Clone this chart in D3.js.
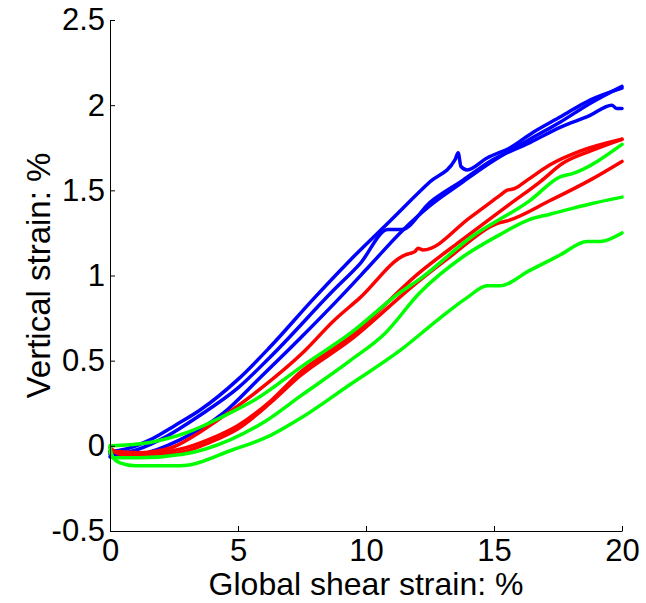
<!DOCTYPE html>
<html>
<head>
<meta charset="utf-8">
<script src="https://cdn.jsdelivr.net/npm/d3@7"></script>
<style>
  body { margin: 0; background: #fff; }
  text { font-family: Arial, "Liberation Sans", sans-serif; }
</style>
</head>
<body>
<svg id="chart" width="646" height="603"></svg>
<script>
// tick values
var xTicks = [0, 5, 10, 15, 20];
var yTicks = [-0.5, 0, 0.5, 1, 1.5, 2, 2.5];

// curves, [shear strain %, vertical strain %]
var blue1 = [[0,-0.035],[0.59,-0.02],[1.56,0.035],[2.54,0.12],[3.52,0.21],[5.0,0.39],[6.25,0.58],[7.93,0.86],
  [9.38,1.09],[10.94,1.32],[12.5,1.55],[13.48,1.68],[13.6,1.72],[13.71,1.64],[13.95,1.62],[14.73,1.69],
  [15.63,1.75],[16.52,1.84],[17.58,1.93],[18.75,2.03],[20,2.10]];
var blue2 = [[0,-0.05],[0.78,-0.035],[1.95,0.035],[3.52,0.18],[5.0,0.34],[6.25,0.52],[8.71,0.91],[9.77,1.07],
  [10.86,1.27],[11.4,1.27],[12.5,1.43],[13.79,1.56],[14.84,1.67],[16.4,1.78],[17.58,1.87],[18.75,1.94],
  [19.6,2.0],[19.8,1.98],[20,1.98]];
var blue3 = [[0,-0.065],[1.17,-0.05],[2.73,0.035],[4.41,0.19],[5.86,0.40],[7.42,0.63],[8.98,0.87],[10.16,1.06],
  [11.4,1.26],[12.5,1.41],[13.79,1.55],[14.84,1.66],[16.4,1.80],[17.58,1.90],[18.75,2.01],[20,2.11]];

var red1 = [[0,-0.03],[1.17,-0.04],[2.42,-0.01],[3.3,0.06],[4.1,0.14],[5.66,0.31],[7.62,0.56],[8.71,0.73],
  [9.77,0.87],[11.52,1.12],[11.72,1.13],[11.91,1.14],[12.03,1.16],[12.23,1.15],[14.06,1.34],[15.23,1.47],
  [15.5,1.5],[15.8,1.51],[16.3,1.56],[17.19,1.65],[18.36,1.73],[20,1.80]];
var red2 = [[0,-0.035],[1.56,-0.045],[2.73,-0.02],[3.9,0.04],[5.0,0.12],[6.25,0.26],[7.42,0.43],[9.38,0.64],
  [12.11,1.02],[13.67,1.2],[15.63,1.42],[16.8,1.55],[17.7,1.66],[18.75,1.73],[20,1.80]];
var red3 = [[0,-0.01],[0.4,-0.05],[1.56,-0.055],[2.73,-0.04],[3.9,0.02],[5.0,0.1],[6.25,0.25],[7.42,0.41],
  [9.38,0.62],[12.0,0.96],[13.28,1.11],[15.23,1.31],[15.5,1.32],[17.19,1.44],[18.75,1.56],[20,1.67]];

var green1 = [[0,0.0],[1.56,0.02],[3.05,0.08],[4.38,0.17],[5.66,0.27],[7.62,0.48],[9.38,0.66],[11.33,0.90],
  [12.11,0.98],[14.06,1.22],[16.4,1.44],[17.6,1.58],[18.09,1.60],[20,1.77]];
var green2 = [[0,-0.01],[0.12,-0.07],[1.17,-0.07],[2.85,-0.05],[4.69,0.035],[6.13,0.15],[7.42,0.29],[9.38,0.50],
  [10.74,0.66],[12.11,0.90],[13.79,1.11],[15.23,1.24],[16.4,1.33],[17.19,1.36],[18.75,1.42],[20,1.46]];
var green3 = [[0,-0.035],[0.12,-0.07],[0.39,-0.10],[0.98,-0.117],[2.73,-0.117],[4.8,-0.023],[6.25,0.06],
  [7.42,0.16],[9.38,0.36],[11.33,0.56],[12.89,0.75],[13.95,0.87],[14.73,0.94],[15.23,0.94],[16.4,1.03],
  [17.58,1.12],[18.63,1.20],[19.14,1.20],[20,1.25]];

var curves = [
  {pts: blue1, color: "#0000ff"}, {pts: blue2, color: "#0000ff"}, {pts: blue3, color: "#0000ff"},
  {pts: red1, color: "#ff0000"}, {pts: red2, color: "#ff0000"}, {pts: red3, color: "#ff0000"},
  {pts: green1, color: "#00ff00"}, {pts: green2, color: "#00ff00"}, {pts: green3, color: "#00ff00"}
];

// plot box (window.top is taken, so prefixed names)
var plotLeft = 110, plotRight = 622, plotTop = 20, plotBottom = 531;
var tickFont = 31, labelFont = 32;

var svg = d3.select("#chart");
var x = d3.scaleLinear().domain([0, 20]).range([plotLeft, plotRight]);
var y = d3.scaleLinear().domain([-0.5, 2.5]).range([plotBottom, plotTop]);

var line = d3.line()
  .curve(d3.curveMonotoneX)
  .x(function(d){ return x(d[0]); })
  .y(function(d){ return y(d[1]); });

svg.append("g").selectAll("path")
  .data(curves)
  .enter().append("path")
  .attr("d", function(d){ return line(d.pts); })
  .attr("fill", "none")
  .attr("stroke", function(d){ return d.color; })
  .attr("stroke-width", 3.5)
  .attr("stroke-linejoin", "round")
  .attr("stroke-linecap", "round");

// axes, matlab style ticks pointing in
var xAxis = svg.append("g")
  .attr("transform", "translate(0," + plotBottom + ")")
  .call(d3.axisBottom(x).tickValues(xTicks).tickSizeInner(-5).tickSizeOuter(0).tickPadding(8)
    .tickFormat(function(d){ return String(d); }));
var yAxis = svg.append("g")
  .attr("transform", "translate(" + plotLeft + ",0)")
  .call(d3.axisLeft(y).tickValues(yTicks).tickSizeInner(-5).tickSizeOuter(0).tickPadding(5)
    .tickFormat(function(d){ return String(d); }));

[xAxis, yAxis].forEach(function(g){
  g.attr("font-size", null).attr("font-family", null);
  g.selectAll("text").attr("font-size", tickFont).attr("fill", "#000");
  g.selectAll("line").attr("stroke", "#000");
  g.select(".domain").attr("stroke", "#000");
});

svg.append("text")
  .attr("transform", "translate(50," + ((plotTop + plotBottom) / 2) + ") rotate(-90)")
  .attr("text-anchor", "middle")
  .attr("font-size", 33)
  .text("Vertical strain: %");

svg.append("text")
  .attr("x", (plotLeft + plotRight) / 2)
  .attr("y", 595)
  .attr("text-anchor", "middle")
  .attr("font-size", labelFont)
  .text("Global shear strain: %");
</script>
</body>
</html>
